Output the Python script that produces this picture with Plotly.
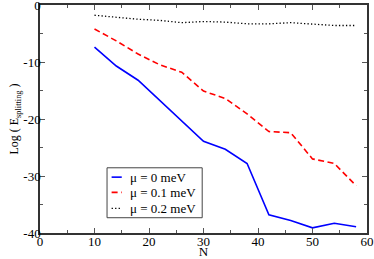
import plotly.graph_objects as go

N = [10, 14, 18, 22, 26, 30, 34, 38, 42, 46, 50, 54, 58]
mu0 = [-7.4, -10.7, -13.2, -16.8, -20.3, -23.9, -25.3, -27.8, -36.8, -37.8, -39.1, -38.3, -38.9]
mu01 = [-4.2, -6.3, -8.6, -10.5, -11.8, -15.1, -16.4, -19.1, -22.2, -22.4, -27.0, -27.8, -31.7]
mu02 = [-1.8, -2.2, -2.5, -2.7, -3.1, -2.9, -3.0, -3.3, -3.3, -3.1, -3.3, -3.6, -3.6]
names = ["μ = 0 meV", "μ = 0.1 meV", "μ = 0.2 meV"]
xticks = [0, 10, 20, 30, 40, 50, 60]
yticks = [0, -10, -20, -30, -40]

font = "Liberation Serif, Times New Roman, serif"
colors = ["#0000ff", "#ff0000", "#000000"]
dashes = ["solid", "6px,3.5px", "1.3px,2.2px"]
widths = [1.6, 1.6, 1.3]

fig = go.Figure()
for ys, nm, c, d, w in zip([mu0, mu01, mu02], names, colors, dashes, widths):
    fig.add_trace(go.Scatter(x=N, y=ys, mode="lines", name=nm, showlegend=False,
                             line=dict(color=c, width=w, dash=d)))

axis_common = dict(showgrid=False, zeroline=False, showline=True, linecolor="#333333",
                   linewidth=1.5, mirror="allticks", ticks="inside", ticklen=5,
                   tickcolor="#555555", tickwidth=1, automargin=False,
                   ticklabeloverflow="allow",
                   tickfont=dict(family=font, size=13, color="black"))
fig.update_xaxes(range=[0, 60], tickvals=xticks, ticktext=[str(v) for v in xticks],
                 minor=dict(dtick=5, ticks="inside", ticklen=3, tickcolor="#555555"),
                 ticklabelstandoff=-4,
                 title=dict(text="N", font=dict(family=font, size=13, color="black"), standoff=0),
                 **axis_common)
fig.update_yaxes(range=[-40, 0], tickvals=yticks,
                 ticktext=[str(v) for v in yticks],
                 minor=dict(dtick=5, ticks="inside", ticklen=3, tickcolor="#555555"),
                 ticklabelstandoff=-5,
                 title=dict(text="Log ( E<sub>splitting</sub> )",
                            font=dict(family=font, size=12, color="black"), standoff=2),
                 **axis_common)

# legend drawn by hand to match the compact original style
shapes = [dict(type="rect", xref="paper", yref="paper", x0=0.205, x1=0.496,
               y0=0.067, y1=0.286, line=dict(color="#444444", width=1),
               fillcolor="white", layer="above")]
annotations = []
rows = [0.245, 0.178, 0.108]
for nm, c, d, w, ry in zip(names, colors, dashes, widths, rows):
    shapes.append(dict(type="line", xref="paper", yref="paper", x0=0.219, x1=0.250,
                       y0=ry, y1=ry, line=dict(color=c, width=w, dash=d), layer="above"))
    annotations.append(dict(text=nm, xref="paper", yref="paper", x=0.268, y=ry,
                            xanchor="left", yanchor="middle", showarrow=False,
                            font=dict(family=font, size=13, color="black")))

fig.update_layout(width=374, height=259, margin=dict(l=40, r=7, t=5, b=26),
                  paper_bgcolor="white", plot_bgcolor="white",
                  shapes=shapes, annotations=annotations, showlegend=False)
fig.write_html("out.html", config={"displayModeBar": False},
               post_script="document.body.style.margin='0';document.body.style.overflow='hidden';")
